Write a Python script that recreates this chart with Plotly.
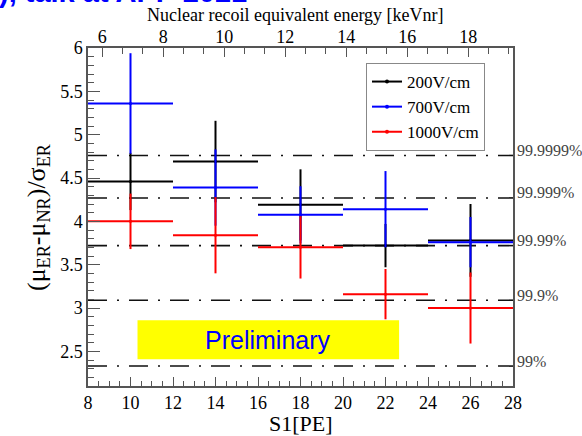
import plotly.graph_objects as go

# ---------------- data ----------------
s1_pe = [10, 14, 18, 22, 26]
s1_halfwidth = [2, 2, 2, 2, 2]

sep_200 = [4.46, 4.69, 4.19, 3.72, 3.78]
err_200 = [0.33, 0.47, 0.41, 0.25, 0.42]

sep_700 = [5.36, 4.39, 4.075, 4.14, 3.76]
err_700 = [0.58, 0.44, 0.33, 0.44, 0.29]

sep_1000 = [4.00, 3.84, 3.70, 3.16, 3.00]
err_1000 = [0.32, 0.44, 0.36, 0.29, 0.41]

series_names = ["200V/cm", "700V/cm", "1000V/cm"]
series_colors = ["#000000", "#0000ff", "#ff0000"]

cl_levels = [2.33, 3.09, 3.72, 4.27, 4.76]
cl_labels = ["99%", "99.9%", "99.99%", "99.999%", "99.9999%"]

x_tickvals = [8, 10, 12, 14, 16, 18, 20, 22, 24, 26, 28]
x_ticktext = ["8", "10", "12", "14", "16", "18", "20", "22", "24", "26", "28"]
y_tickvals = [2.5, 3, 3.5, 4, 4.5, 5, 5.5, 6]
y_ticktext = ["2.5", "3", "3.5", "4", "4.5", "5", "5.5", "6"]
top_tickvals = [6, 8, 10, 12, 14, 16, 18]
top_ticktext = ["6", "8", "10", "12", "14", "16", "18"]

x_range = [8, 28]
y_range = [2.1, 6.0]
top_range = [5.53, 19.47]

prelim_box_x = [10.33, 22.64]
prelim_box_y = [2.41, 2.86]

# ---------------- figure ----------------
SERIF = "Liberation Serif, Times New Roman, DejaVu Serif, serif"
SANS = "Liberation Sans, Arial, sans-serif"
fig = go.Figure()

series = [(sep_200, err_200), (sep_700, err_700), (sep_1000, err_1000)]
for (yv, ev), name, col in zip(series, series_names, series_colors):
    fig.add_trace(go.Scatter(
        x=s1_pe, y=yv, mode="markers",
        marker=dict(color=col, size=3),
        error_x=dict(type="data", array=s1_halfwidth, color=col, thickness=2, width=0),
        error_y=dict(type="data", array=ev, color=col, thickness=2, width=0),
        showlegend=False, name=name,
    ))
for name, col in zip(series_names, series_colors):
    fig.add_trace(go.Scatter(
        x=[None], y=[None], mode="lines+markers", name=name,
        line=dict(color=col, width=2), marker=dict(color=col, size=4),
    ))
# invisible trace to activate the top axis
fig.add_trace(go.Scatter(x=top_range, y=[None, None], xaxis="x2", mode="lines",
                         showlegend=False, hoverinfo="skip"))

shapes = []
for lvl in cl_levels:
    shapes.append(dict(type="line", xref="x", yref="y", x0=x_range[0], x1=x_range[1],
                       y0=lvl, y1=lvl, layer="below",
                       line=dict(color="#111111", width=1.6, dash="19px,10px,2px,10px")))
shapes.append(dict(type="rect", xref="x", yref="y", x0=prelim_box_x[0], x1=prelim_box_x[1],
                   y0=prelim_box_y[0], y1=prelim_box_y[1], fillcolor="#ffff00",
                   line=dict(width=0), layer="below"))

annotations = []
for lvl, lab in zip(cl_levels, cl_labels):
    annotations.append(dict(xref="paper", yref="y", x=1.0, y=lvl, xanchor="left",
                            yanchor="middle", xshift=2, yshift=5, text=lab, showarrow=False,
                            font=dict(family=SERIF, size=16, color="#444444")))
annotations.append(dict(xref="x", yref="y", x=sum(prelim_box_x) / 2,
                        y=sum(prelim_box_y) / 2, text="Preliminary", showarrow=False,
                        font=dict(family=SANS, size=25, color="#0000ff")))
annotations.append(dict(xref="paper", yref="paper", x=-50 / 425, y=0.5, textangle=-90,
                        xanchor="center", yanchor="middle", showarrow=False,
                        text="(μ<sub>ER</sub>-μ<sub>NR</sub>)/σ<sub>ER</sub>",
                        font=dict(family=SERIF, size=26, color="#000000")))
annotations.append(dict(xref="paper", yref="paper", x=0.5, y=(386 - 423) / 338,
                        xanchor="center", yanchor="middle", showarrow=False,
                        text="S1[PE]",
                        font=dict(family=SERIF, size=22, color="#000000")))
annotations.append(dict(xref="paper", yref="paper", x=(295 - 88) / 425, y=1 + 33 / 338,
                        xanchor="center", yanchor="middle", showarrow=False,
                        text="Nuclear recoil equivalent energy [keVnr]",
                        font=dict(family=SERIF, size=18, color="#000000")))
annotations.append(dict(xref="paper", yref="paper", x=-91 / 425, y=1 + 56 / 338,
                        xanchor="left", yanchor="middle", showarrow=False,
                        text="<b>), talk at APP 2021</b>",
                        font=dict(family=SANS, size=29, color="#0000ff")))

AX = "#555555"
fig.update_layout(
    width=582, height=436,
    margin=dict(l=88, r=69, t=48, b=50, autoexpand=False),
    paper_bgcolor="white", plot_bgcolor="white",
    showlegend=True,
    legend=dict(x=(366 - 88) / 425, y=(386 - 63) / 338, xanchor="left", yanchor="top",
                bgcolor="white", bordercolor="#888888", borderwidth=1,
                font=dict(family=SERIF, size=17, color="#000000"),
                tracegroupgap=0, itemwidth=30),
    xaxis=dict(range=x_range, tickvals=x_tickvals, ticktext=x_ticktext, automargin=False,
               showgrid=False, zeroline=False, showline=True, linecolor=AX, linewidth=1.5,
               mirror=True, ticks="inside", ticklen=9, tickwidth=1.2, tickcolor=AX,
               minor=dict(dtick=0.5, tick0=8, ticks="inside", ticklen=5, tickcolor=AX, tickwidth=1),
               tickfont=dict(family=SERIF, size=18, color="#000000")),
    xaxis2=dict(range=top_range, overlaying="x", side="top", anchor="y", automargin=False,
                tickvals=top_tickvals, ticktext=top_ticktext,
                showgrid=False, zeroline=False, showline=False,
                ticks="inside", ticklen=9, tickwidth=1.2, tickcolor=AX,
                minor=dict(dtick=2 / 3, tick0=6, ticks="inside", ticklen=6, tickcolor=AX, tickwidth=1),
                tickfont=dict(family=SERIF, size=18, color="#000000")),
    yaxis=dict(range=y_range, tickvals=y_tickvals, ticktext=y_ticktext, automargin=False,
               showgrid=False, zeroline=False, showline=True, linecolor=AX, linewidth=1.5,
               mirror=True, ticks="inside", ticklen=12, tickwidth=1.2, tickcolor=AX,
               minor=dict(dtick=0.1, tick0=2.1, ticks="inside", ticklen=6, tickcolor=AX, tickwidth=1),
               tickfont=dict(family=SERIF, size=18, color="#000000")),
    shapes=shapes,
    annotations=annotations,
)

fig.write_html("out.html")
